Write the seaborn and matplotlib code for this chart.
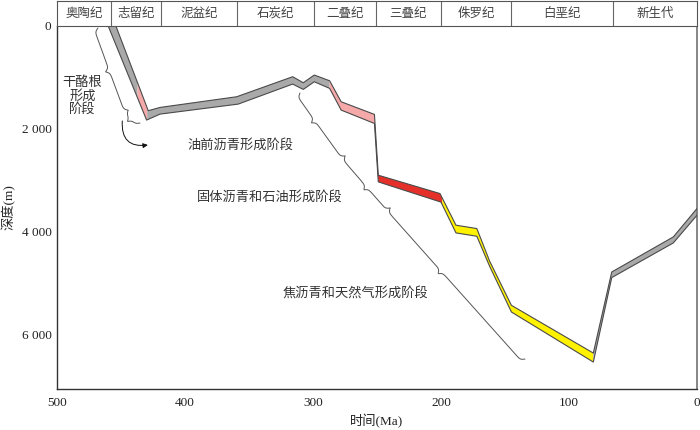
import numpy as np
import matplotlib
matplotlib.use('Agg')
import matplotlib.pyplot as plt
import seaborn as sns

# geological periods (header strip)
periods = ['奥陶纪', '志留纪', '泥盆纪', '石炭纪', '二叠纪', '三叠纪', '侏罗纪', '白垩纪', '新生代']
period_bounds = [500, 458, 419, 359, 299, 251, 200, 145, 66, 0]

# burial band: upper edge and lower edge (age Ma, depth m)
top_age = [454, 428.7, 419.5, 359.6, 315.9, 307.6, 299, 287, 278, 252, 249, 200.8,
           188.3, 172, 162, 145, 81, 66.6, 18.5, 0]
top_depth = [0, 1650, 1586, 1378, 988, 1105, 955, 1067, 1476, 1722, 2906, 3263,
             3880, 3945, 4580, 5440, 6370, 4791, 4108, 3555]
base_age = [460, 430, 419.5, 358.4, 315.9, 307.6, 299, 287, 278, 252, 249, 200,
            188.3, 172, 162, 145, 81, 66.6, 18.5, 0]
base_depth = [0, 1832, 1716, 1521, 1131, 1235, 1086, 1215, 1638, 1898, 3036, 3430,
              4030, 4095, 4680, 5570, 6545, 4900, 4225, 3686]

# colour stages along the band (age breaks)
stage_breaks = [470, 437, 429.5, 287, 250.5, 199, 81, -1]
stage_colors = ['#a9a9a9', '#f6a9a9', '#a9a9a9', '#f6a9a9', '#e5302a', '#fff200', '#a9a9a9']

# stage annotations
stage_labels = ['干酪根\n形成\n阶段', '油前沥青形成阶段', '固体沥青和石油形成阶段', '焦沥青和天然气形成阶段']
label_age = [480, 357, 334, 267]
label_depth = [1370, 2320, 3330, 5200]

# braces along the curve: (start age, start depth, end age, end depth, tip position)
braces = [(468, 40, 444.5, 1640, 0.5),
          (444.5, 1640, 435.2, 1890, 0.45),
          (310.2, 1305, 275, 2532, 0.4),
          (275, 2532, 239.8, 3545, 0.55),
          (239.8, 3545, 134.4, 6487, 0.4)]
arrow_from = (449, 1850)
arrow_to = (429, 2318)

sns.set_theme(style='white')
plt.rcParams['font.family'] = ['Liberation Serif', 'Noto Sans CJK SC']
plt.rcParams['axes.edgecolor'] = '#333333'

fig = plt.figure(figsize=(7, 4.3), dpi=100)
ax = fig.add_axes([57 / 700, 41 / 430, 640 / 700, 363 / 430])
hdr = fig.add_axes([57 / 700, 404 / 430, 640 / 700, 25 / 430], sharex=ax)

ax.set_xlim(500, 0)
ax.set_ylim(7070, 0)


def band_side(ages, deps, a_hi, a_lo):
    a = np.array(ages)
    d = np.array(deps)
    hi = min(a_hi, a[0])
    lo = max(a_lo, a[-1])
    pts = [(hi, np.interp(hi, a[::-1], d[::-1]))]
    pts += [(x, y) for x, y in zip(a, d) if lo < x < hi]
    pts.append((lo, np.interp(lo, a[::-1], d[::-1])))
    return pts


for i, col in enumerate(stage_colors):
    up = band_side(top_age, top_depth, stage_breaks[i], stage_breaks[i + 1])
    dn = band_side(base_age, base_depth, stage_breaks[i], stage_breaks[i + 1])
    poly = np.array(up + dn[::-1])
    ax.fill(poly[:, 0], poly[:, 1], color=col, lw=0, zorder=2)

sns.lineplot(x=top_age, y=top_depth, sort=False, estimator=None, ax=ax,
             color='#4a4a4a', lw=0.8, zorder=3)
sns.lineplot(x=base_age, y=base_depth, sort=False, estimator=None, ax=ax,
             color='#4a4a4a', lw=0.8, zorder=3)


def draw_brace(a0, d0, a1, d1, frac, width=8.0, beta=0.75):
    p0 = ax.transData.transform((a0, d0))
    p1 = ax.transData.transform((a1, d1))
    v = p1 - p0
    L = np.hypot(*v)
    u = v / L
    n = np.array([-u[1], u[0]])
    if n[0] > 0:
        n = -n
    m = frac * L
    s = np.linspace(0, L, 300)

    def half(x, b):
        return 1 / (1 + np.exp(-beta * x)) + 1 / (1 + np.exp(-beta * (x - b))) - 0.5

    prof = np.where(s <= m, half(s, m), half(L - s, L - m))
    pts = p0 + np.outer(s, u) + np.outer(width * prof, n)
    dat = ax.transData.inverted().transform(pts)
    ax.plot(dat[:, 0], dat[:, 1], color='#555555', lw=0.7, zorder=2)


for b in braces:
    draw_brace(*b)

ax.annotate('', xy=arrow_to, xytext=arrow_from,
            arrowprops=dict(arrowstyle='-|>', color='#111111', lw=0.7,
                            mutation_scale=7, shrinkA=0, shrinkB=0,
                            connectionstyle='arc3,rad=0.6'))

for txt, a, d in zip(stage_labels, label_age, label_depth):
    ax.text(a, d, txt, ha='center', va='center', fontsize=9.5, color='#333333',
            linespacing=1.05)

ax.set_xticks([500, 400, 300, 200, 100, 0])
ax.set_yticks([0, 2000, 4000, 6000])
ax.set_yticklabels(['0', '2 000', '4 000', '6 000'])
ax.tick_params(direction='in', length=4, width=0.8, colors='#333333',
               labelsize=9.5, pad=4)
ax.tick_params(axis='x', pad=6)
ax.tick_params(labelcolor='#222222')
ax.set_xlabel('时间(Ma)', fontsize=9.5, color='#222222', labelpad=3)
ax.set_ylabel('深度(m)', fontsize=9.5, color='#222222', labelpad=4)
ax.spines['top'].set_visible(False)
ax.spines['right'].set_color('#777777')
for sp in ['left', 'bottom']:
    ax.spines[sp].set_linewidth(1.0)

# header strip with period names
hdr.set_ylim(0, 1)
hdr.set_xlim(500, 0)
for b in period_bounds[1:-1]:
    hdr.axvline(b, color='#666666', lw=0.8)
for name, a0, a1 in zip(periods, period_bounds[:-1], period_bounds[1:]):
    hdr.text((a0 + a1) / 2, 0.5, name, ha='center', va='center', fontsize=9,
             color='#444444')
hdr.tick_params(left=False, bottom=False, labelleft=False, labelbottom=False)
for sp in hdr.spines.values():
    sp.set_color('#555555')
    sp.set_linewidth(0.8)

fig.savefig('out.png', dpi=100)
